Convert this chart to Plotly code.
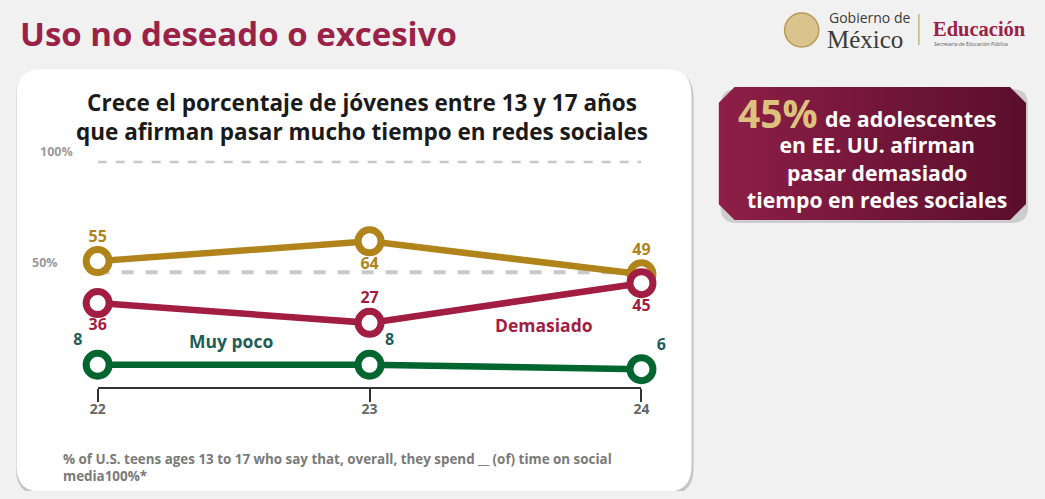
import plotly.graph_objects as go

# ---- data ----
years = [22, 23, 24]
year_labels = ["22", "23", "24"]
about_right = [55, 64, 49]     # gold series
too_much = [36, 27, 45]        # "Demasiado"
too_little = [8, 8, 6]         # "Muy poco"
ref_levels = [100, 50]
ref_labels = ["100%", "50%"]

PAGE_MARGIN = 8
W, H = 1045 - 2 * PAGE_MARGIN, 499 - 2 * PAGE_MARGIN
SX, OX = 0.983, 7.6   # observed horizontal mapping of the page in the snapshot
def px(x): return min(1.0, max(0.0, ((x - OX) / SX - PAGE_MARGIN) / W))
def py(y): return 1 - (y - PAGE_MARGIN) / H

GOLD = "#b0831b"
RED = "#a21d42"
GREEN = "#00652f"
GREEN_TXT = "#1f5c58"
BURG = "#9b2247"
BG = "#f1f1f1"
FONT = "Open Sans"

fig = go.Figure()

def series(vals, color, txtcolor, positions):
    fig.add_trace(go.Scatter(
        x=years, y=vals, mode="lines+markers+text",
        line=dict(color=color, width=6.5),
        marker=dict(size=23, color="white", line=dict(color=color, width=7)),
        text=[f"<b>{v}</b>" for v in vals], textposition=positions,
        textfont=dict(family=FONT, size=16, color=txtcolor),
        cliponaxis=False, hoverinfo="skip", showlegend=False))

series(too_little, GREEN, GREEN_TXT, ["top left", "top right", "top right"])
series(about_right, GOLD, GOLD, ["top center", "bottom center", "top center"])
series(too_much, RED, RED, ["bottom center", "top center", "bottom center"])

def rrect(x0, y0, x1, y1, r):
    return (f"M {px(x0+r)},{py(y0)} L {px(x1-r)},{py(y0)} Q {px(x1)},{py(y0)} {px(x1)},{py(y0+r)} "
            f"L {px(x1)},{py(y1-r)} Q {px(x1)},{py(y1)} {px(x1-r)},{py(y1)} "
            f"L {px(x0+r)},{py(y1)} Q {px(x0)},{py(y1)} {px(x0)},{py(y1-r)} "
            f"L {px(x0)},{py(y0+r)} Q {px(x0)},{py(y0)} {px(x0+r)},{py(y0)} Z")

shapes = []
shapes.append(dict(type="path", xref="paper", yref="paper", path=rrect(14, 71, 692, 495, 26),
                   fillcolor="rgba(0,0,0,0.18)", line=dict(width=0), layer="below"))
shapes.append(dict(type="path", xref="paper", yref="paper", path=rrect(16, 69, 690, 492, 26),
                   fillcolor="white", line=dict(width=0), layer="below"))
shapes.append(dict(type="path", xref="paper", yref="paper", path=rrect(719, 89, 1026, 223, 16),
                   fillcolor="rgba(0,0,0,0.15)", line=dict(width=0), layer="below"))
for lvl, w in zip(ref_levels, [2.5, 4]):
    shapes.append(dict(type="line", xref="x", yref="y", x0=years[0], x1=years[-1], y0=lvl, y1=lvl,
                       line=dict(color="#c8c8c8", width=w, dash="dash"), layer="below"))
shapes.append(dict(type="circle", xref="paper", yref="paper", x0=px(783), x1=px(817), y0=py(13), y1=py(47),
                   fillcolor="#d8c48c", line=dict(color="#b89a55", width=1.5)))
shapes.append(dict(type="line", xref="paper", yref="paper", x0=px(917), x1=px(917), y0=py(14), y1=py(45),
                   line=dict(color="#c9b27a", width=1.5)))

bx0, by0, bx1, by1, br = 717, 87, 1024, 220, 16
box_x = [bx0 + br, bx1 - br, bx1, bx1, bx1 - br, bx0 + br, bx0, bx0, bx0 + br]
box_y = [by0, by0, by0 + br, by1 - br, by1, by1, by1 - br, by0 + br, by0]
fig.add_trace(go.Scatter(
    x=box_x, y=box_y, xaxis="x2", yaxis="y2", mode="lines", fill="toself",
    line=dict(width=0, color="#7a1838"),
    fillgradient=dict(type="horizontal", colorscale=[[0, "#8e1f47"], [1, "#5a0e2c"]]),
    hoverinfo="skip", showlegend=False))

ann = []
def text(x, y, t, size, color, xanchor="left", family=FONT, yanchor="middle", **kw):
    ann.append(dict(xref="paper", yref="paper", x=px(x), y=py(y), text=t, showarrow=False,
                    xanchor=xanchor, yanchor=yanchor, font=dict(family=family, size=size, color=color), **kw))

text(17, 33, "<b>Uso no deseado o excesivo</b>", 33, BURG)
text(361, 117, "<b>Crece el porcentaje de jóvenes entre 13 y 17 años<br>que afirman pasar mucho tiempo en redes sociales</b>",
     22.5, "#1a1a1a", xanchor="center", align="center")
text(60, 467, "<b>% of U.S. teens ages 13 to 17 who say that, overall, they spend __ (of) time on social<br>media100%*</b>",
     13.4, "#7a7a7a", family="Liberation Sans Narrow, Open Sans", align="left")
text(230, 341, "<b>Muy poco</b>", 17.5, GREEN_TXT, xanchor="center")
text(543, 325, "<b>Demasiado</b>", 17.5, RED, xanchor="center")
for lvl, lab, xx in zip(ref_levels, ref_labels, [37, 29]):
    ann.append(dict(xref="paper", yref="y", x=px(xx), y=lvl, yshift=10, text=f"<b>{lab}</b>", showarrow=False,
                    xanchor="left", yanchor="middle", font=dict(family=FONT, size=12.5, color="#9a9a9a")))

text(734, 113, "<b>45%</b>", 39, "#dcc27e")
text(821, 118, "<b>de adolescentes</b>", 21.4, "white")
text(875, 172, "<b>en EE. UU. afirman<br>pasar demasiado<br>tiempo en redes sociales</b>", 21.2, "white",
     xanchor="center", align="center")

text(825, 18, "Gobierno de", 14, "#3a3a3a")
text(823, 39, "México", 25, "#3a3a3a", family="Liberation Serif, DejaVu Serif")
text(929, 29, "<b>Educación</b>", 20.5, BURG, family="Liberation Serif, DejaVu Serif")
text(930, 44, "Secretaría de Educación Pública", 5, "#555")

fig.update_layout(
    width=W, height=H, margin=dict(l=0, r=0, t=0, b=0),
    paper_bgcolor=BG, plot_bgcolor="rgba(0,0,0,0)",
    shapes=shapes, annotations=ann,
    xaxis=dict(domain=[px(97), px(640)], range=[22, 24], tickvals=years,
               ticktext=[f"<b>{t}</b>" for t in year_labels],
               showline=True, linecolor="#333", linewidth=2, ticks="outside", ticklen=13, tickwidth=2,
               tickcolor="#333", tickfont=dict(family=FONT, size=14, color="#666666"),
               ticklabelstandoff=-5,
               showgrid=False, zeroline=False, fixedrange=True),
    yaxis=dict(domain=[py(387), py(150)], range=[-2.09, 105.4], visible=False, fixedrange=True),
    xaxis2=dict(domain=[px(bx0), px(bx1)], range=[bx0, bx1], visible=False, anchor="y2", fixedrange=True),
    yaxis2=dict(domain=[py(by1), py(by0)], range=[by1, by0], visible=False, anchor="x2", fixedrange=True),
)

fig.write_html("out.html", config={"displayModeBar": False},
               post_script="document.body.style.background='%s';" % BG)
